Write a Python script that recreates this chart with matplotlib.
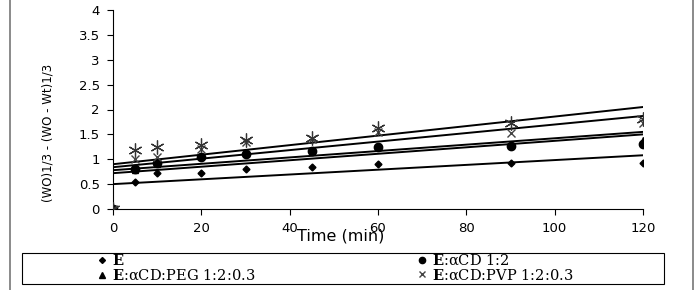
import matplotlib
matplotlib.use("Agg")
import matplotlib.pyplot as plt
from matplotlib.lines import Line2D
from matplotlib.patches import Rectangle

plt.rcParams['font.family'] = ['DejaVu Sans']
plt.rcParams['mathtext.fontset'] = 'dejavuserif'

tiempo = [0, 5, 10, 20, 30, 45, 60, 90, 120]

e_solo = [0, 0.55, 0.72, 0.73, 0.80, 0.85, 0.90, 0.93, 0.92]
e_acd = [0, 0.80, 0.93, 1.05, 1.10, 1.17, 1.25, 1.27, 1.30]
e_peg = [0, 0.78, 0.90, 1.07, 1.12, 1.18, 1.27, 1.28, 1.38]
e_pvp = [0, 1.00, 1.05, 1.20, 1.35, 1.40, 1.55, 1.52, 1.72]
e_ast = [0, 1.18, 1.25, 1.28, 1.38, 1.43, 1.62, 1.73, 1.80]

# lineas de tendencia: valor en t=0 y en t=120
trend_x = [0, 120]
trend_e = [0.50, 1.08]
trend_acd = [0.72, 1.50]
trend_peg = [0.78, 1.55]
trend_pvp = [0.84, 1.87]
trend_ast = [0.90, 2.05]

etiquetas = [r"$\mathbf{E}$", r"$\mathbf{E}$:αCD 1:2",
             r"$\mathbf{E}$:αCD:PEG 1:2:0.3",
             r"$\mathbf{E}$:αCD:PVP 1:2:0.3"]

fig = plt.figure(figsize=(7, 2.9), dpi=100)
ax = fig.add_axes([113/700, 1-209/290, 530/700, 199/290])

for tr in [trend_e, trend_acd, trend_peg, trend_pvp, trend_ast]:
    ax.plot(trend_x, tr, color='black', lw=1.4, zorder=2)

ax.plot(tiempo, e_solo, 'D', color='black', ms=3.5, ls='none', zorder=3)
ax.plot(tiempo, e_acd, 'o', color='black', ms=6, ls='none', zorder=3)
ax.plot(tiempo, e_peg, '^', color='black', ms=5, ls='none', zorder=3)
ax.plot(tiempo, e_pvp, 'x', color='#444444', ms=6, mew=1, ls='none', zorder=3)
ax.plot(tiempo, e_ast, marker=(6, 2, 0), color='#333333', ms=10, mew=0.9, ls='none', zorder=3)

ax.set_xlim(0, 120)
ax.set_ylim(0, 4)
ax.set_xticks([0, 20, 40, 60, 80, 100, 120])
ax.set_yticks([0, 0.5, 1, 1.5, 2, 2.5, 3, 3.5, 4])
ax.set_yticklabels(['0', '0.5', '1', '1.5', '2', '2.5', '3', '3.5', '4'])
ax.spines['top'].set_visible(False)
ax.spines['right'].set_visible(False)
ax.tick_params(labelsize=9.5, length=4.5, width=0.8, pad=5)
ax.set_xlabel("Time (min)", fontsize=11.5)
ax.xaxis.set_label_coords(0.43, -0.1)
ax.set_ylabel("(WO)1/3 - (WO - Wt)1/3", fontsize=8.5)
ax.yaxis.set_label_coords(-0.111, 0.38)

# marco exterior
fig.add_artist(Line2D([10/700, 10/700], [0, 1], color='#777777', lw=1.2))
fig.add_artist(Line2D([693/700, 693/700], [0, 1], color='#777777', lw=1.2))

# caja de leyenda
fig.add_artist(Rectangle((22/700, 1-284/290), 642/700, 31/290,
                         transform=fig.transFigure, fill=False, lw=0.8, color='black'))

marcas = [
    Line2D([], [], marker='D', color='black', ms=3, ls='none'),
    Line2D([], [], marker='^', color='black', ms=4, ls='none'),
    Line2D([], [], marker='o', color='black', ms=4.5, ls='none'),
    Line2D([], [], marker='x', color='#444444', ms=4.5, ls='none'),
]
props = {'family': 'DejaVu Serif', 'size': 10.5}
for k, x0 in enumerate([98, 418]):
    fig.legend(marcas[2*k:2*k+2], [etiquetas[k], etiquetas[k+2]], loc='upper left',
               bbox_to_anchor=(x0/700, 1-253/290), frameon=False, prop=props,
               handlelength=0.6, handletextpad=0.35, labelspacing=0.0,
               borderaxespad=0, borderpad=0)

fig.savefig("out.png", dpi=100)
